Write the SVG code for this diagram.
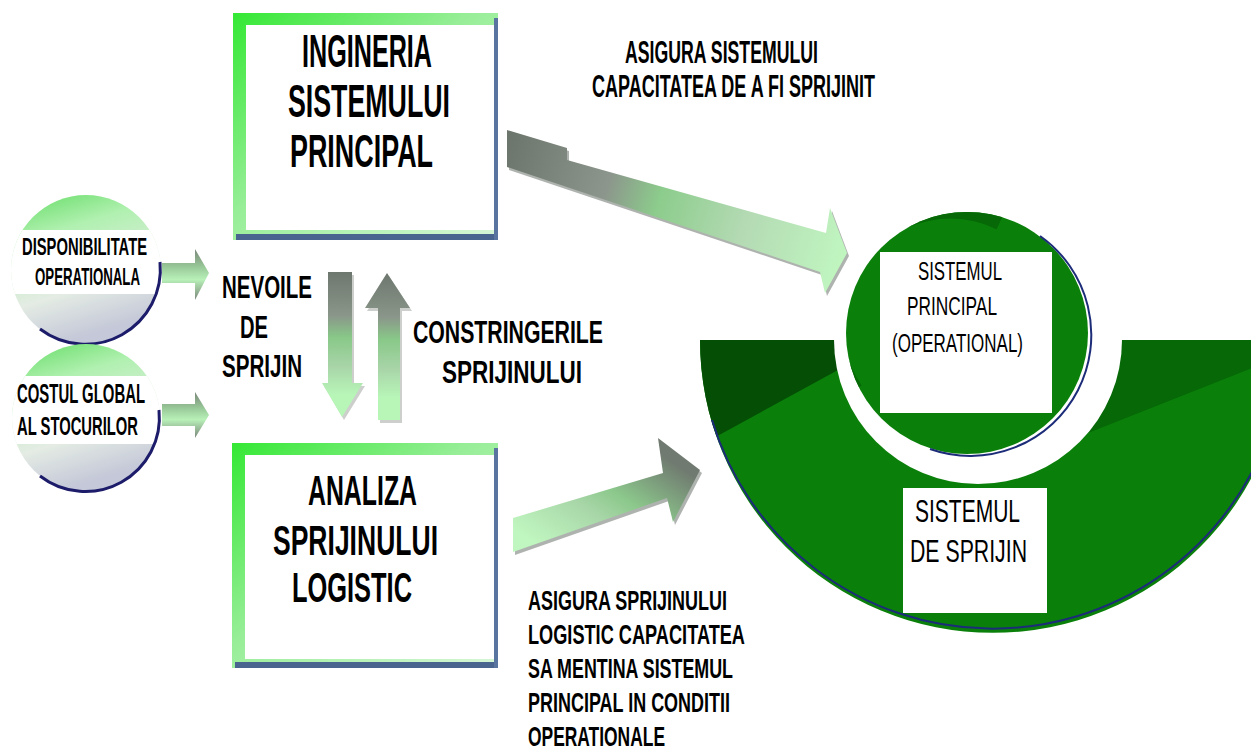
<svg xmlns="http://www.w3.org/2000/svg" width="1251" height="754" viewBox="0 0 1251 754">
<defs>
<style>
.t{font-family:"Liberation Sans Narrow","Liberation Sans",Arial,sans-serif;fill:#000}
.big{font-size:47px;font-weight:bold}
.mid{font-size:32px;font-weight:bold}
.low{font-size:28px;font-weight:bold}
.sm{font-size:24px;font-weight:bold}
.inn{font-size:25px;font-weight:normal}
.inb{font-size:31px;font-weight:normal}
</style>
<linearGradient id="boxg" x1="0" y1="0" x2="1" y2="1">
<stop offset="0" stop-color="#34e834"/>
<stop offset="0.45" stop-color="#98ee98"/>
<stop offset="1" stop-color="#d8f6d8"/>
</linearGradient>
<linearGradient id="circg" x1="0" y1="0" x2="0.3" y2="1">
<stop offset="0" stop-color="#62dc62"/>
<stop offset="0.3" stop-color="#b0f0b0"/>
<stop offset="0.7" stop-color="#e4ece4"/>
<stop offset="1" stop-color="#c4c8d8"/>
</linearGradient>
<linearGradient id="smallarr" x1="0" y1="0" x2="0" y2="1">
<stop offset="0" stop-color="#7a867a"/>
<stop offset="0.35" stop-color="#98c898"/>
<stop offset="0.6" stop-color="#b8f0b8"/>
<stop offset="1" stop-color="#7a867a"/>
</linearGradient>
<linearGradient id="vert" x1="0" y1="0" x2="0" y2="1">
<stop offset="0" stop-color="#6e776e"/>
<stop offset="0.3" stop-color="#8a968a"/>
<stop offset="0.45" stop-color="#88c888"/>
<stop offset="0.65" stop-color="#a8d4a8"/>
<stop offset="0.85" stop-color="#b8f6b8"/>
<stop offset="1" stop-color="#b8f6b8"/>
</linearGradient>
<linearGradient id="topArr" gradientUnits="userSpaceOnUse" x1="507" y1="150" x2="847" y2="255">
<stop offset="0" stop-color="#6c766c"/>
<stop offset="0.3" stop-color="#8c968c"/>
<stop offset="0.45" stop-color="#8ccc8c"/>
<stop offset="0.7" stop-color="#b4dab4"/>
<stop offset="1" stop-color="#c0f6c0"/>
</linearGradient>
<linearGradient id="botArr" gradientUnits="userSpaceOnUse" x1="560" y1="560" x2="640" y2="440">
<stop offset="0" stop-color="#c0f6c0"/>
<stop offset="0.4" stop-color="#a8d6a8"/>
<stop offset="0.6" stop-color="#8cc88c"/>
<stop offset="1" stop-color="#707a70"/>
</linearGradient>
<clipPath id="ringClip"><path d="M700 340 A293 293 0 0 0 1286 340 Z"/></clipPath>
<clipPath id="c1"><circle cx="86" cy="270" r="75"/></clipPath>
<clipPath id="c2"><circle cx="86" cy="418" r="74"/></clipPath>
<clipPath id="innerClip"><circle cx="967" cy="333" r="121"/></clipPath>
</defs>
<rect width="1251" height="754" fill="#fff"/>

<g id="ring">
<path d="M700 340 A293 293 0 0 0 1286 340 Z" fill="#0a800a"/>
<g clip-path="url(#ringClip)">
<polygon points="690,330 860,330 860,358 690,451" fill="#054e05"/>
<polygon points="1080,330 1260,330 1260,365 1088,433" fill="#066806"/>
</g>
<path d="M712 420 A293 293 0 0 0 1270 430" fill="none" stroke="#1c2c78" stroke-width="2"/>
<circle cx="978" cy="340" r="144" fill="#fff"/>
</g>

<g id="sistemul-principal">
<circle cx="967" cy="333" r="121" fill="#0a800a"/>
<g clip-path="url(#innerClip)">
<path d="M855 390 A115 115 0 0 1 1000 222" fill="none" stroke="#066806" stroke-width="16"/>
</g>
<path d="M1040 236 A121 121 0 0 1 930 449" fill="none" stroke="#1c2c78" stroke-width="2"/>
<rect x="880" y="252" width="172" height="161" fill="#fff"/>
<text class="t inn" x="918" y="280" textLength="84" lengthAdjust="spacingAndGlyphs">SISTEMUL</text>
<text class="t inn" x="907" y="315" textLength="90" lengthAdjust="spacingAndGlyphs">PRINCIPAL</text>
<text class="t inn" x="892" y="352" textLength="131" lengthAdjust="spacingAndGlyphs">(OPERATIONAL)</text>
</g>

<g id="sistemul-sprijin">
<rect x="903" y="488" width="144" height="125" fill="#fff"/>
<text class="t inb" x="915" y="522" textLength="105" lengthAdjust="spacingAndGlyphs">SISTEMUL</text>
<text class="t inb" x="910" y="562" textLength="117" lengthAdjust="spacingAndGlyphs">DE SPRIJIN</text>
</g>

<g id="ingineria">
<rect x="233" y="13" width="265" height="227" fill="url(#boxg)"/>
<rect x="246" y="25" width="249" height="205" fill="#fff"/>
<rect x="236" y="234" width="262" height="6" fill="#4a6490"/>
<rect x="494" y="18" width="4" height="222" fill="#5a74a0"/>
<text class="t big" x="302" y="67" textLength="130" lengthAdjust="spacingAndGlyphs">INGINERIA</text>
<text class="t big" x="288" y="117" textLength="162" lengthAdjust="spacingAndGlyphs">SISTEMULUI</text>
<text class="t big" x="290" y="167" textLength="143" lengthAdjust="spacingAndGlyphs">PRINCIPAL</text>
</g>

<g id="analiza">
<rect x="232" y="443" width="266" height="225" fill="url(#boxg)"/>
<rect x="245" y="455" width="249" height="204" fill="#fff"/>
<rect x="235" y="662" width="263" height="6" fill="#4a6490"/>
<rect x="494" y="448" width="4" height="220" fill="#5a74a0"/>
<text class="t big" x="308" y="505" textLength="109" lengthAdjust="spacingAndGlyphs" style="font-size:43px">ANALIZA</text>
<text class="t big" x="273" y="555" textLength="165" lengthAdjust="spacingAndGlyphs" style="font-size:43px">SPRIJINULUI</text>
<text class="t big" x="292" y="602" textLength="120" lengthAdjust="spacingAndGlyphs" style="font-size:43px">LOGISTIC</text>
</g>

<g id="disponibilitate">
<circle cx="86" cy="270" r="75" fill="url(#circg)"/>
<rect x="0" y="230" width="170" height="64" fill="#fff" clip-path="url(#c1)"/>
<path d="M160 262 A75 75 0 0 1 40 329" fill="none" stroke="#1c1c6a" stroke-width="3"/>
<text class="t sm" x="22" y="255" textLength="125" lengthAdjust="spacingAndGlyphs">DISPONIBILITATE</text>
<text class="t sm" x="35" y="285" textLength="105" lengthAdjust="spacingAndGlyphs">OPERATIONALA</text>
</g>

<g id="costul">
<circle cx="86" cy="418" r="74" fill="url(#circg)"/>
<rect x="0" y="376" width="170" height="68" fill="#fff" clip-path="url(#c2)"/>
<path d="M159 410 A74 74 0 0 1 40 476" fill="none" stroke="#1c1c6a" stroke-width="3"/>
<text class="t sm" x="17" y="403" textLength="128" lengthAdjust="spacingAndGlyphs" style="font-size:27px">COSTUL GLOBAL</text>
<text class="t sm" x="17" y="435" textLength="121" lengthAdjust="spacingAndGlyphs" style="font-size:25px">AL STOCURILOR</text>
</g>

<g id="connectors">
<polygon points="162,263 195,263 195,249 209,273 195,300 195,283 162,283" fill="url(#smallarr)"/>
<polygon points="162,404 195,404 195,392 209,415 195,438 195,426 162,426" fill="url(#smallarr)"/>
<polygon points="330,275 354,275 354,386 365,386 344,420 324,386 330,386" fill="#9aa09a" opacity="0.5"/>
<polygon points="328,272 352,272 352,383 363,383 342,417 322,383 328,383" fill="url(#vert)"/>
<polygon points="380,423 402,423 402,311 412,311 389,276 367,311 380,311" fill="#9aa09a" opacity="0.5"/>
<polygon points="378,420 400,420 400,308 410,308 387,273 365,308 378,308" fill="url(#vert)"/>
<polygon points="509,133 569,151 569,163 828,236 832,211 849,256 827,296 822,275 509,170" fill="#7a807a" opacity="0.6"/>
<polygon points="507,130 567,148 567,160 826,233 830,208 847,253 825,293 820,272 507,167" fill="url(#topArr)"/>
<polygon points="515,555 669,501 675,525 702,473 660,441 665,476 515,521" fill="#7a807a" opacity="0.6"/>
<polygon points="513,552 667,498 673,522 700,470 658,438 663,473 513,518" fill="url(#botArr)"/>
</g>

<g id="labels">
<text class="t mid" x="625" y="63" textLength="193" lengthAdjust="spacingAndGlyphs">ASIGURA SISTEMULUI</text>
<text class="t mid" x="592" y="97" textLength="283" lengthAdjust="spacingAndGlyphs">CAPACITATEA DE A FI SPRIJINIT</text>
<text class="t mid" x="222" y="298" textLength="90" lengthAdjust="spacingAndGlyphs">NEVOILE</text>
<text class="t mid" x="240" y="338" textLength="28" lengthAdjust="spacingAndGlyphs">DE</text>
<text class="t mid" x="222" y="377" textLength="80" lengthAdjust="spacingAndGlyphs">SPRIJIN</text>
<text class="t mid" x="413" y="343" textLength="190" lengthAdjust="spacingAndGlyphs">CONSTRINGERILE</text>
<text class="t mid" x="442" y="383" textLength="140" lengthAdjust="spacingAndGlyphs">SPRIJINULUI</text>
<text class="t low" x="528" y="610" textLength="199" lengthAdjust="spacingAndGlyphs">ASIGURA SPRIJINULUI</text>
<text class="t low" x="528" y="644" textLength="217" lengthAdjust="spacingAndGlyphs">LOGISTIC CAPACITATEA</text>
<text class="t low" x="528" y="678" textLength="205" lengthAdjust="spacingAndGlyphs">SA MENTINA SISTEMUL</text>
<text class="t low" x="528" y="712" textLength="202" lengthAdjust="spacingAndGlyphs">PRINCIPAL IN CONDITII</text>
<text class="t low" x="528" y="746" textLength="137" lengthAdjust="spacingAndGlyphs">OPERATIONALE</text>
</g>
</svg>
